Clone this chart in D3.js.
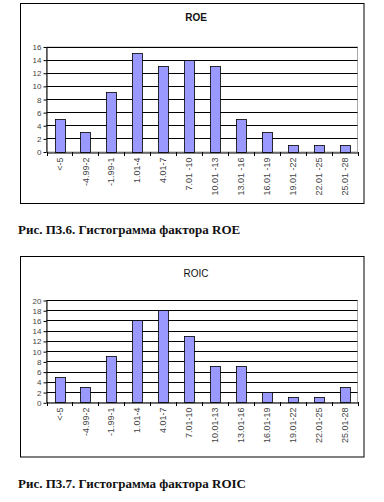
<!DOCTYPE html>
<html><head><meta charset="utf-8">
<script src="https://cdn.jsdelivr.net/npm/d3@7"></script>
<style>body{margin:0;background:#fff}</style>
</head><body>
<svg id="c" width="384" height="502"></svg>
<script>
const roeCategories = ["<-5","-4.99-2","-1.99-1","1.01-4","4.01-7","7.01 -10","10.01 -13","13.01 -16","16.01 -19","19.01 -22","22.01 -25","25.01 -28"];
const roeValues = [5,3,9,15,13,14,13,5,3,1,1,1];
const roeTicks = [0,2,4,6,8,10,12,14,16];
const roicCategories = ["<-5","-4.99-2","-1.99-1","1.01-4","4.01-7","7.01-10","10.01-13","13.01-16","16.01-19","19.01-22","22.01-25","25.01-28"];
const roicValues = [5,3,9,16,18,13,7,7,2,1,1,3];
const roicTicks = [0,2,4,6,8,10,12,14,16,18,20];

const svg = d3.select("#c");

function chart(cfg){
  const g = svg.append("g");
  g.append("rect").attr("x",20.5).attr("y",cfg.boxTop+0.5).attr("width",343.5).attr("height",cfg.boxH)
   .attr("fill","#fff").attr("stroke","#000").attr("stroke-width",1);
  g.append("text").attr("x",196).attr("y",cfg.titleY).attr("text-anchor","middle")
   .attr("font-family","Arial, Liberation Sans, sans-serif").attr("font-size",10)
   .attr("font-weight",cfg.bold?"bold":"normal").attr("fill","#111").text(cfg.title);
  const x = d3.scaleBand().domain(cfg.cats).range([46.5,357.5]).paddingInner(0.62).paddingOuter(0.31);
  const xb = d3.scaleBand().domain(cfg.cats).range([46.5,357.5]);
  const y = d3.scaleLinear().domain([0,cfg.max]).range([cfg.y0,cfg.yTop]);
  g.append("rect").attr("x",46.5).attr("y",cfg.yTop+0.5).attr("width",311).attr("height",cfg.y0-cfg.yTop)
   .attr("fill","none").attr("stroke","#aaa").attr("stroke-width",1);
  g.selectAll(".gl").data(cfg.ticks.slice(1)).join("line")
   .attr("x1",46.5).attr("x2",357.5).attr("y1",d=>Math.round(y(d))+0.5).attr("y2",d=>Math.round(y(d))+0.5)
   .attr("stroke","#000").attr("stroke-width",1);
  g.selectAll(".bar").data(cfg.vals).join("rect")
   .attr("x",(d,i)=>Math.round(x(cfg.cats[i]))+0.5).attr("width",Math.round(x.bandwidth()))
   .attr("y",d=>Math.round(y(d))+0.5).attr("height",d=>Math.round(cfg.y0)-Math.round(y(d)))
   .attr("fill","#9999ff").attr("stroke","#000").attr("stroke-width",0.8);
  const ya = g.append("g").attr("transform","translate(46.5,0.5)")
   .call(d3.axisLeft(y).tickValues(cfg.ticks).tickSize(3).tickSizeOuter(0));
  ya.select(".domain").attr("stroke","#000");
  ya.selectAll("text").attr("font-family","Arial, Liberation Sans, sans-serif").attr("font-size",8).attr("fill","#444").attr("dx",1);
  const xa = g.append("g").attr("transform",`translate(0,${Math.round(cfg.y0)+0.5})`)
   .call(d3.axisBottom(xb).tickSize(0).tickSizeOuter(0));
  xa.select(".domain").attr("stroke","#000");
  xa.selectAll(".tick text").attr("font-family","Arial, Liberation Sans, sans-serif").attr("font-size",9).attr("fill","#444")
   .attr("transform","rotate(-90)").attr("text-anchor","end").attr("x",-5).attr("y",0).attr("dy","0.35em");
  g.selectAll(".st").data(d3.range(cfg.cats.length+1)).join("line")
   .attr("x1",i=>Math.round(46.5+i*xb.step())+0.5).attr("x2",i=>Math.round(46.5+i*xb.step())+0.5)
   .attr("y1",Math.round(cfg.y0)).attr("y2",Math.round(cfg.y0)+4).attr("stroke","#000");
  svg.append("text").attr("x",18).attr("y",cfg.capY)
   .attr("font-family","Liberation Serif, DejaVu Serif, serif").attr("font-size",13).attr("font-weight","bold")
   .attr("fill","#111").text(cfg.caption);
}

chart({boxTop:3,boxH:200,title:"ROE",bold:true,titleY:21,cats:roeCategories,vals:roeValues,ticks:roeTicks,max:16,y0:151.5,yTop:46.5,capY:234,caption:"Рис. П3.6. Гистограмма фактора ROE"});
chart({boxTop:256,boxH:200.5,title:"ROIC",bold:false,titleY:277,cats:roicCategories,vals:roicValues,ticks:roicTicks,max:20,y0:402.3,yTop:300,capY:488,caption:"Рис. П3.7. Гистограмма фактора ROIC"});
</script>
</body></html>
